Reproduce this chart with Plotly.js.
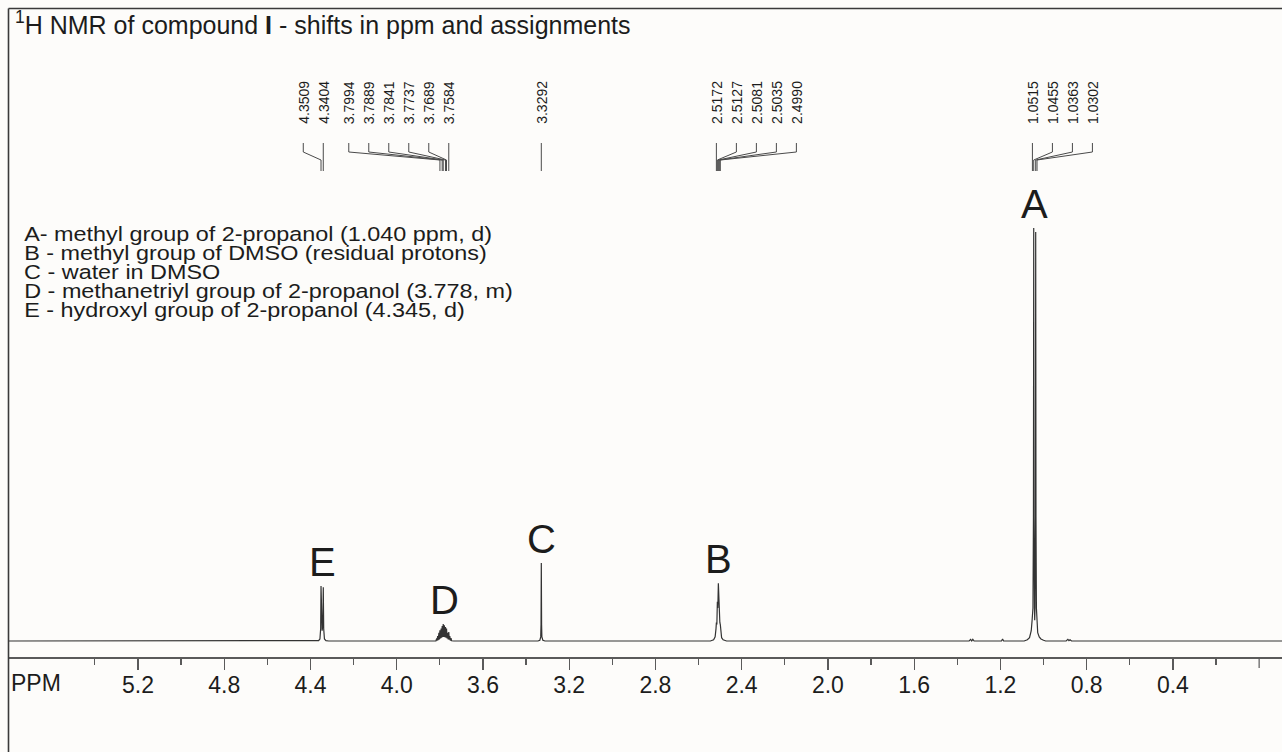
<!DOCTYPE html>
<html>
<head>
<meta charset="utf-8">
<script src="https://cdn.plot.ly/plotly-3.0.1.min.js"></script>
<style>
  html, body { margin: 0; padding: 0; background: #fdfcfa; }
  #chart { width: 1282px; height: 752px; }
</style>
</head>
<body>
<div id="chart"></div>
<script>
// 1H NMR spectrum of 2-propanol in DMSO-d6: chemical shift (ppm) vs relative intensity (tallest line = 100)
const ppm = [
  5.798, 4.400,
  // E - OH doublet
  4.375, 4.362, 4.356, 4.3525, 4.3509, 4.3490, 4.3457, 4.3423, 4.3404, 4.3385, 4.335, 4.328, 4.315,
  // D - CH multiplet
  3.830, 3.818, 3.8146, 3.8125, 3.8098, 3.8075, 3.8042, 3.8020, 3.7994, 3.7965, 3.7937, 3.7912,
  3.7889, 3.7865, 3.7841, 3.7815, 3.7789, 3.7762, 3.7737, 3.7712, 3.7689, 3.7660, 3.7632, 3.7610,
  3.7584, 3.7560, 3.7536, 3.7510, 3.7480, 3.7450, 3.735,
  // C - water
  3.345, 3.336, 3.332, 3.3305, 3.3292, 3.3279, 3.3265, 3.322, 3.312,
  // B - DMSO residual quintet
  2.545, 2.530, 2.523, 2.519, 2.5172, 2.5150, 2.5127, 2.5105, 2.5081, 2.5058, 2.5035, 2.5012,
  2.4990, 2.497, 2.493, 2.486, 2.470,
  // small impurities
  1.345, 1.338, 1.333, 1.328, 1.322, 1.195, 1.190, 1.185,
  // A - CH3 doublet
  1.090, 1.075, 1.065, 1.057, 1.0530, 1.0515, 1.0490, 1.0468, 1.0455, 1.0442, 1.0420, 1.0409,
  1.0395, 1.0376, 1.0363, 1.0350, 1.0330, 1.0302, 1.027, 1.020, 1.012, 1.000, 0.990,
  0.895, 0.887, 0.882, 0.877, 0.870,
  -0.106
];
const intensity = [
  0, 0,
  0, 0.1, 0.5, 3.0, 13.3, 4.0, 2.5, 4.0, 13.0, 3.0, 0.5, 0.1, 0,
  0, 0.05, 0.6, 0.1, 1.2, 0.2, 2.0, 0.4, 2.6, 0.6, 3.0, 0.8,
  3.6, 1.0, 4.1, 1.0, 3.8, 0.9, 3.4, 0.8, 3.0, 0.6, 2.0, 0.4,
  2.2, 0.3, 1.2, 0.1, 0.7, 0.05, 0,
  0, 0.2, 1.0, 4.0, 18.9, 4.0, 1.0, 0.2, 0,
  0, 0.3, 1.0, 3.0, 4.5, 4.0, 9.5, 8.0, 14.0, 8.0, 9.0, 4.5,
  4.0, 2.5, 0.8, 0.3, 0,
  0, 0.4, 0, 0.4, 0, 0, 0.5, 0,
  0, 0.3, 0.8, 2.5, 5.0, 6.0, 8.0, 30, 100, 30, 8, 5,
  8, 30, 99, 30, 8, 5, 2.0, 1.0, 0.5, 0.2, 0,
  0, 0.4, 0.1, 0.3, 0,
  0
];

// peak-picked shifts, one list per multiplet
const shiftsE = [4.3509, 4.3404];
const shiftsD = [3.7994, 3.7889, 3.7841, 3.7737, 3.7689, 3.7584];
const shiftsC = [3.3292];
const shiftsB = [2.5172, 2.5127, 2.5081, 2.5035, 2.4990];
const shiftsA = [1.0515, 1.0455, 1.0363, 1.0302];

// assignment letters and their centre shifts
const peakLetters = ['A', 'B', 'C', 'D', 'E'];
const peakCentres = [1.040, 2.508, 3.329, 3.778, 4.345];

const legendLines = [
  'A- methyl group of 2-propanol (1.040 ppm, d)',
  'B - methyl group of DMSO (residual protons)',
  'C - water in DMSO',
  'D - methanetriyl group of 2-propanol (3.778, m)',
  'E - hydroxyl group of 2-propanol (4.345, d)'
];

const tickValues = [5.2, 4.8, 4.4, 4.0, 3.6, 3.2, 2.8, 2.4, 2.0, 1.6, 1.2, 0.8, 0.4];
const tickLabels = ['5.2', '4.8', '4.4', '4.0', '3.6', '3.2', '2.8', '2.4', '2.0', '1.6', '1.2', '0.8', '0.4'];
const unlabelledMajorTicks = [0.0];
const minorTickValues = [5.4, 5.0, 4.6, 4.2, 3.8, 3.4, 3.0, 2.6, 2.2, 1.8, 1.4, 1.0, 0.6, 0.2];

// ---- geometry helpers ----
const W = 1282, H = 752;
const M = { l: 9, r: 0, t: 140, b: 95 };
const plotW = W - M.l - M.r;
const plotH = H - M.t - M.b;
const xRange = [5.798, -0.106];
const yRange = [-3.87, 121.3];
const pxPerPpm = plotW / (xRange[0] - xRange[1]);
const paperX = px => (px - M.l) / plotW;
const paperY = py => (H - M.b - py) / plotH;

const FONT = 'Liberation Sans, Arial, Helvetica, sans-serif';
const INK = '#1c1c1c';
const LINE = '#4a4a4a';
const AXIS = '#5a5a5a';
const MAJOR_LEN = 11;
const KEY_STRETCH = 1.2;   // the key is set in an extended face

const shapes = [];
const annotations = [];

// frame: top rule and left rule
shapes.push({ type: 'line', xref: 'paper', yref: 'paper',
  x0: paperX(8.5), x1: paperX(W), y0: paperY(8.5), y1: paperY(8.5),
  line: { color: '#3a3a3a', width: 1.6 } });
shapes.push({ type: 'line', xref: 'paper', yref: 'paper',
  x0: paperX(8.5), x1: paperX(8.5), y0: paperY(8.5), y1: paperY(H),
  line: { color: '#3a3a3a', width: 1.6 } });

// major tick without a number at the right end of the scale
unlabelledMajorTicks.forEach(v => {
  shapes.push({ type: 'line', xref: 'x', yref: 'paper',
    x0: v, x1: v, y0: 0, y1: paperY(H - M.b + MAJOR_LEN),
    line: { color: AXIS, width: 1.2 } });
});

// shift labels with connector lines, fanned out 20 px apart
const labelGap = 20 / pxPerPpm;
function addShiftGroup(shifts, anchorSide) {
  const n = shifts.length;
  shifts.forEach((s, i) => {
    const labelX = anchorSide === 'right'
      ? shifts[n - 1] + (n - 1 - i) * labelGap
      : shifts[0] - i * labelGap;
    annotations.push({
      xref: 'x', yref: 'paper', x: labelX, y: paperY(126),
      xanchor: 'center', yanchor: 'bottom', textangle: -90,
      text: s.toFixed(4), showarrow: false,
      font: { family: FONT, size: 14, color: INK }
    });
    shapes.push({
      type: 'path', xref: 'x', yref: 'paper',
      path: 'M ' + labelX + ',' + paperY(143) +
            ' L ' + labelX + ',' + paperY(152) +
            ' L ' + s + ',' + paperY(160) +
            ' L ' + s + ',' + paperY(171),
      line: { color: LINE, width: 1 }
    });
  });
}
addShiftGroup(shiftsE, 'right');
addShiftGroup(shiftsD, 'right');
addShiftGroup(shiftsC, 'left');
addShiftGroup(shiftsB, 'left');
addShiftGroup(shiftsA, 'left');

// assignment letters just above each signal's tallest line
peakLetters.forEach((letter, i) => {
  const c = peakCentres[i];
  let top = 0;
  ppm.forEach((p, k) => { if (Math.abs(p - c) < 0.06) top = Math.max(top, intensity[k]); });
  annotations.push({
    xref: 'x', yref: 'y', x: c, y: top, xanchor: 'center', yanchor: 'bottom',
    yshift: 0, text: letter, showarrow: false,
    font: { family: FONT, size: 40, color: INK }
  });
});

// title
annotations.push({
  xref: 'paper', yref: 'paper', x: paperX(13), y: paperY(23),
  xanchor: 'left', yanchor: 'middle', showarrow: false,
  text: '<sup>1</sup>H NMR of compound <b>I</b> - shifts in ppm and assignments',
  font: { family: FONT, size: 25, color: INK }
});

// assignment key
legendLines.forEach((line, i) => {
  annotations.push({
    xref: 'paper', yref: 'paper', x: paperX(22), y: paperY(234 + i * 19),
    xanchor: 'left', yanchor: 'middle', showarrow: false, text: line,
    font: { family: FONT, size: 19.5, color: INK }
  });
});

// axis unit label
annotations.push({
  xref: 'paper', yref: 'paper', x: paperX(9), y: paperY(683),
  xanchor: 'left', yanchor: 'middle', showarrow: false, text: 'PPM',
  font: { family: FONT, size: 23, color: INK }
});

const trace = {
  type: 'scatter', mode: 'lines', x: ppm, y: intensity,
  line: { color: '#333333', width: 1.2 }, hoverinfo: 'skip'
};

const layout = {
  width: W, height: H,
  margin: M,
  paper_bgcolor: '#fdfcfa', plot_bgcolor: '#fdfcfa',
  showlegend: false,
  xaxis: {
    range: xRange, showgrid: false, zeroline: false,
    showline: true, linecolor: AXIS, linewidth: 1.5,
    ticks: 'outside', ticklen: MAJOR_LEN, tickwidth: 1.2, tickcolor: AXIS,
    tickmode: 'array', tickvals: tickValues, ticktext: tickLabels,
    ticklabelstandoff: -4,
    tickfont: { family: FONT, size: 23, color: INK },
    minor: { tickmode: 'array', tickvals: minorTickValues, ticks: 'outside',
             ticklen: 6, tickwidth: 1.2, tickcolor: AXIS, showgrid: false },
    fixedrange: true
  },
  yaxis: { range: yRange, visible: false, fixedrange: true },
  shapes: shapes,
  annotations: annotations
};

Plotly.newPlot('chart', [trace], layout, { displayModeBar: false, staticPlot: true })
  .then(gd => {
    // widen the key lines horizontally about their left edge
    gd.querySelectorAll('g.annotation text.annotation-text').forEach(t => {
      if (!legendLines.includes(t.textContent)) return;
      const bb = t.getBBox();
      t.setAttribute('transform',
        'matrix(' + KEY_STRETCH + ',0,0,1,' + ((1 - KEY_STRETCH) * bb.x) + ',0)');
    });
  });
</script>
</body>
</html>
